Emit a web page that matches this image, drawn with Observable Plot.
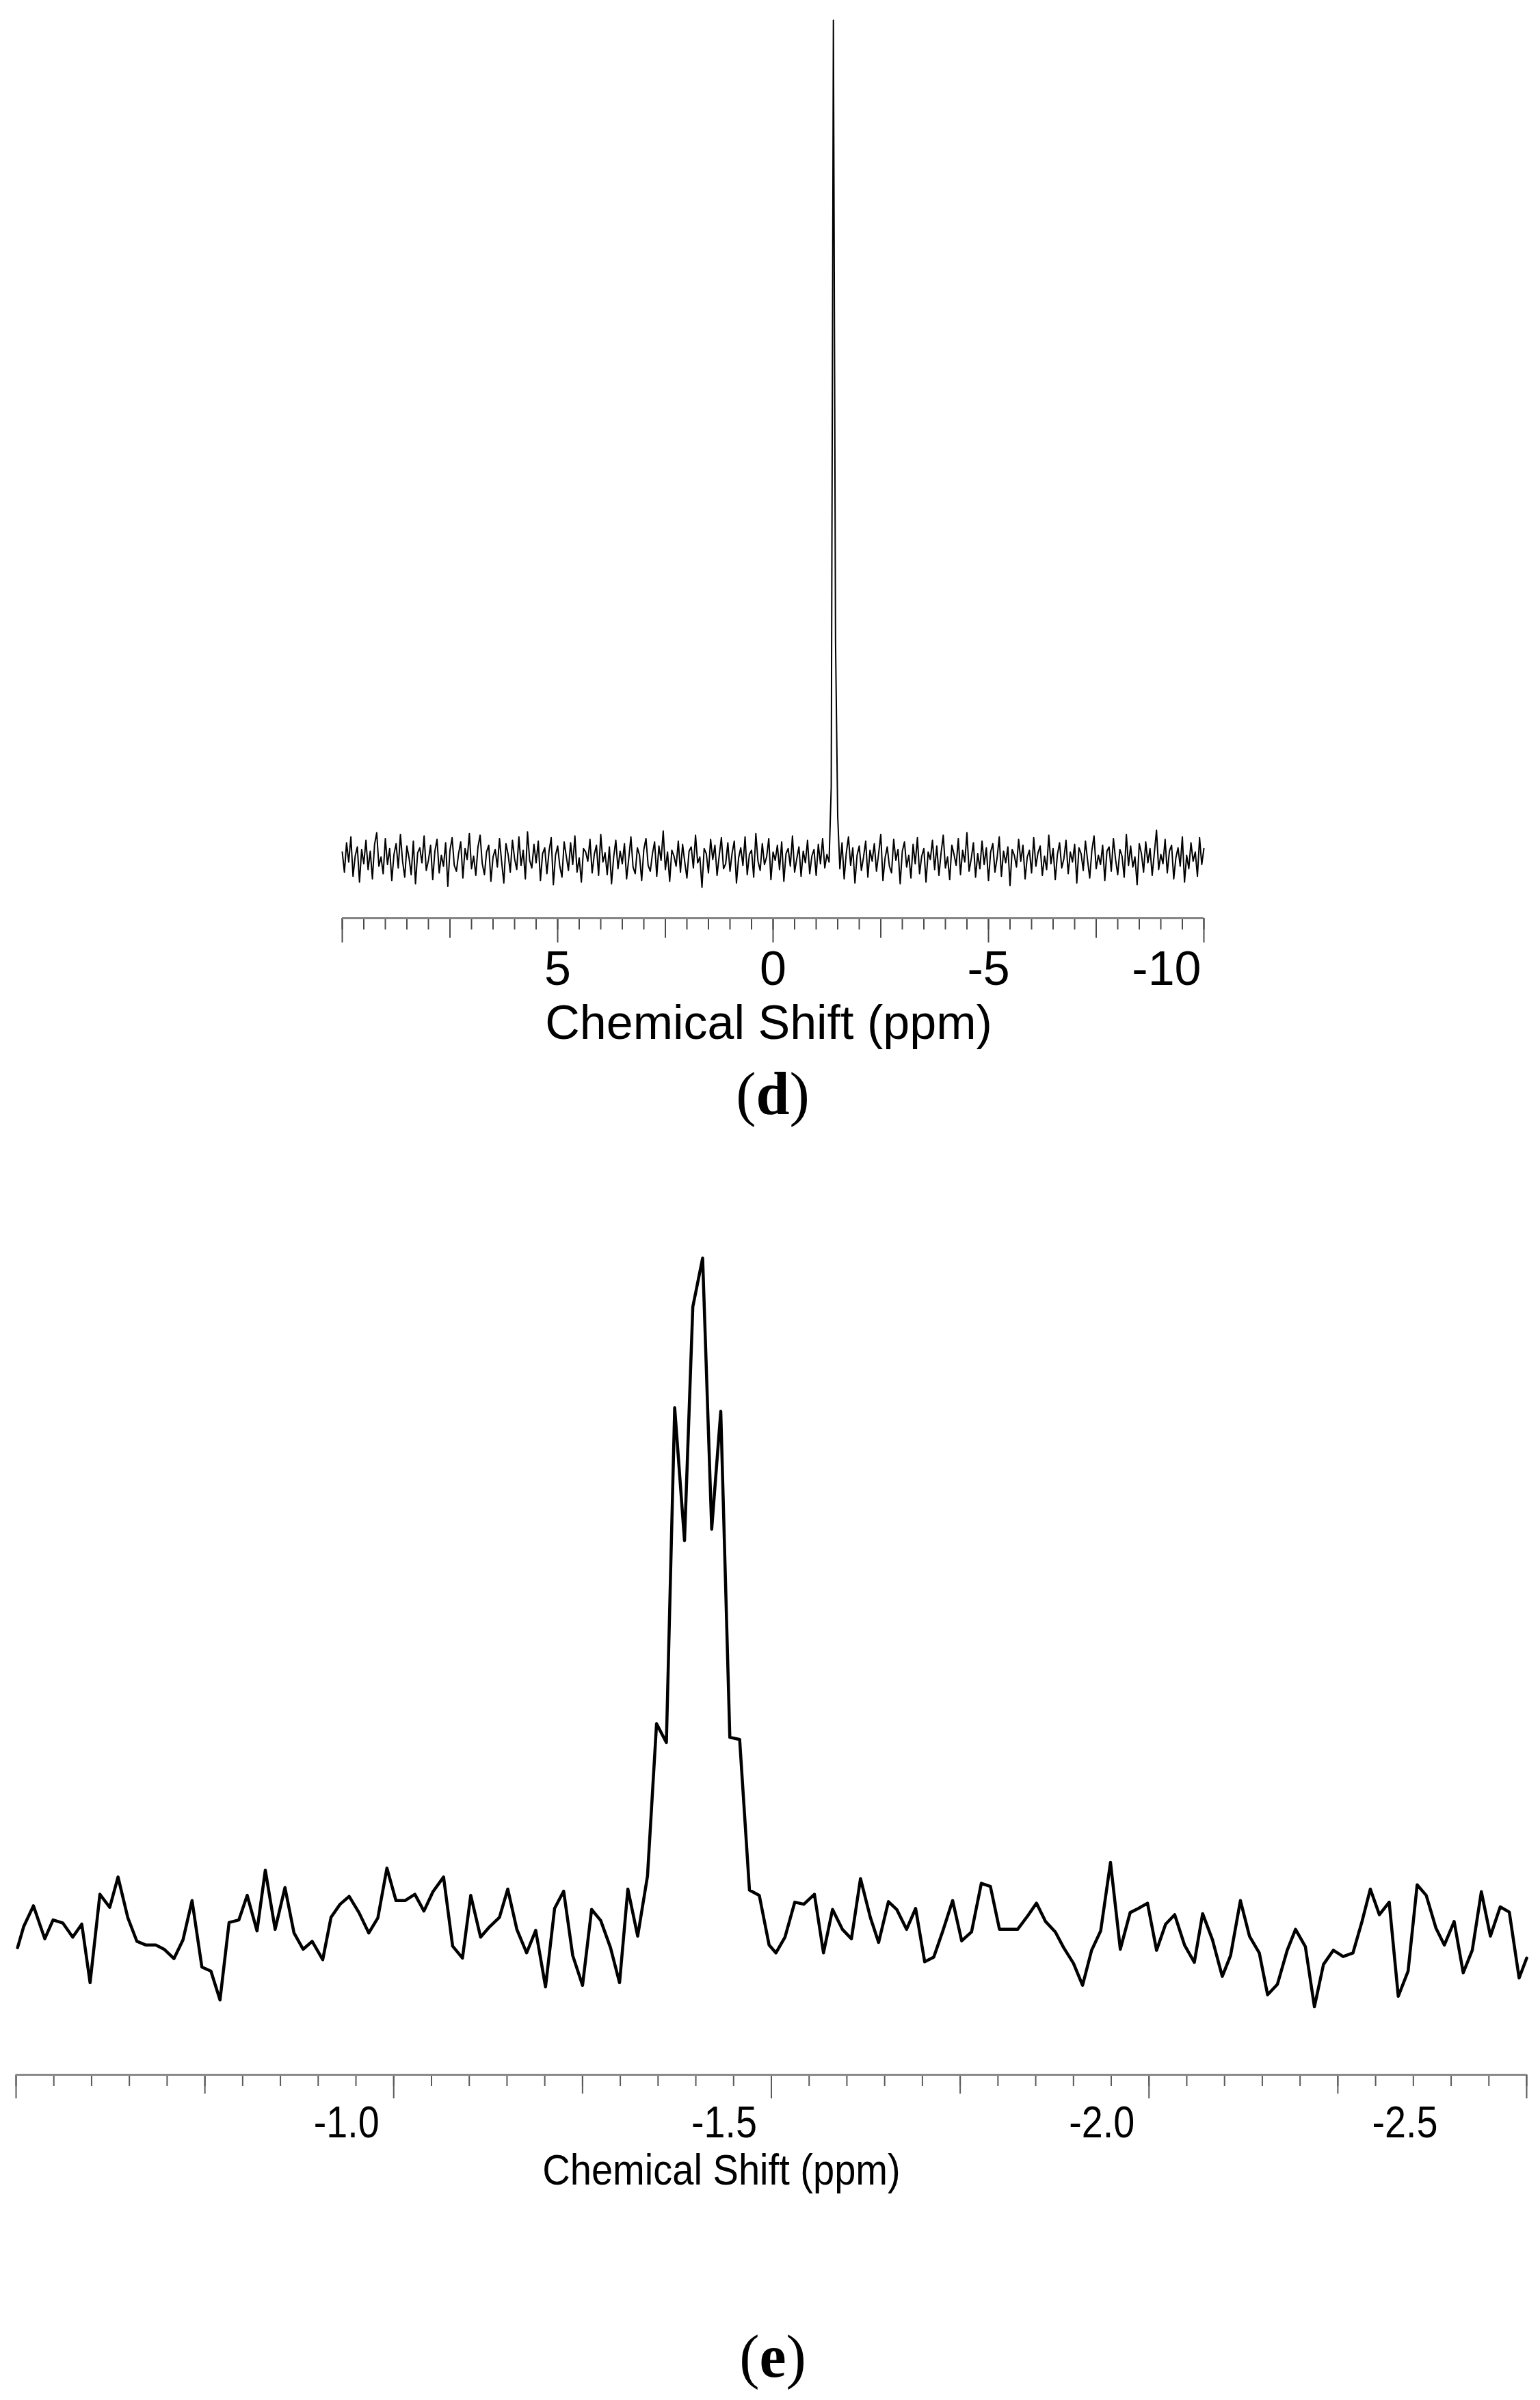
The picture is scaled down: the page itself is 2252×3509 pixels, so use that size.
<!DOCTYPE html>
<html><head><meta charset="utf-8">
<script src="https://cdn.jsdelivr.net/npm/d3@7"></script>
<script src="https://cdn.jsdelivr.net/npm/@observablehq/plot@0.6"></script>
<style>
html,body{margin:0;padding:0;background:#fff;}
#page{position:relative;width:2252px;height:3509px;background:#fff;overflow:hidden;}
.abs{position:absolute;}
.title-d{font-family:"Liberation Sans",Arial,sans-serif;font-size:70px;line-height:70px;text-align:center;color:#000;white-space:nowrap;}
.title-e{font-family:"Liberation Sans",Arial,sans-serif;font-size:63px;line-height:63px;text-align:center;color:#000;white-space:nowrap;transform:scaleX(0.89);transform-origin:50% 50%;}
.cap{font-family:"Liberation Serif","Times New Roman",serif;font-size:88px;line-height:88px;text-align:center;color:#000;white-space:nowrap;}
</style></head>
<body><div id="page">
<div id="d" class="abs" style="left:0;top:0"></div>
<div class="abs title-d" style="left:624px;top:1460px;width:1000px">Chemical Shift (ppm)</div>
<div class="abs cap" style="left:630px;top:1556px;width:1000px">(<b>d</b>)</div>
<div id="e" class="abs" style="left:0;top:1700px"></div>
<div class="abs title-e" style="left:555px;top:3141px;width:1000px">Chemical Shift (ppm)</div>
<div class="abs cap" style="left:630px;top:3402px;width:1000px">(<b>e</b>)</div>
</div>
<script>
// ---------- Panel (d): full spectrum ----------
const dShift = [
10,9.95,9.9,9.85,9.8,9.75,9.7,9.65,9.6,9.55,9.5,9.45,9.4,9.35,9.3,9.25,9.2,9.15,9.1,9.05,
9,8.95,8.9,8.85,8.8,8.75,8.7,8.65,8.6,8.55,8.5,8.45,8.4,8.35,8.3,8.25,8.2,8.15,8.1,8.05,
8,7.95,7.9,7.85,7.8,7.75,7.7,7.65,7.6,7.55,7.5,7.45,7.4,7.35,7.3,7.25,7.2,7.15,7.1,7.05,
7,6.95,6.9,6.85,6.8,6.75,6.7,6.65,6.6,6.55,6.5,6.45,6.4,6.35,6.3,6.25,6.2,6.15,6.1,6.05,
6,5.95,5.9,5.85,5.8,5.75,5.7,5.65,5.6,5.55,5.5,5.45,5.4,5.35,5.3,5.25,5.2,5.15,5.1,5.05,
5,4.95,4.9,4.85,4.8,4.75,4.7,4.65,4.6,4.55,4.5,4.45,4.4,4.35,4.3,4.25,4.2,4.15,4.1,4.05,
4,3.95,3.9,3.85,3.8,3.75,3.7,3.65,3.6,3.55,3.5,3.45,3.4,3.35,3.3,3.25,3.2,3.15,3.1,3.05,
3,2.95,2.9,2.85,2.8,2.75,2.7,2.65,2.6,2.55,2.5,2.45,2.4,2.35,2.3,2.25,2.2,2.15,2.1,2.05,
2,1.95,1.9,1.85,1.8,1.75,1.7,1.65,1.6,1.55,1.5,1.45,1.4,1.35,1.3,1.25,1.2,1.15,1.1,1.05,
1,0.95,0.9,0.85,0.8,0.75,0.7,0.65,0.6,0.55,0.5,0.45,0.4,0.35,0.3,0.25,0.2,0.15,0.1,0.05,
0,-0.05,-0.1,-0.15,-0.2,-0.25,-0.3,-0.35,-0.4,-0.45,-0.5,-0.55,-0.6,-0.65,-0.7,-0.75,-0.8,-0.85,-0.9,-0.95,
-1,-1.05,-1.1,-1.15,-1.2,-1.25,-1.3,-1.35,-1.4,-1.45,-1.5,-1.55,-1.6,-1.65,-1.7,-1.75,-1.8,-1.85,-1.9,-1.95,
-2,-2.05,-2.1,-2.15,-2.2,-2.25,-2.3,-2.35,-2.4,-2.45,-2.5,-2.55,-2.6,-2.65,-2.7,-2.75,-2.8,-2.85,-2.9,-2.95,
-3,-3.05,-3.1,-3.15,-3.2,-3.25,-3.3,-3.35,-3.4,-3.45,-3.5,-3.55,-3.6,-3.65,-3.7,-3.75,-3.8,-3.85,-3.9,-3.95,
-4,-4.05,-4.1,-4.15,-4.2,-4.25,-4.3,-4.35,-4.4,-4.45,-4.5,-4.55,-4.6,-4.65,-4.7,-4.75,-4.8,-4.85,-4.9,-4.95,
-5,-5.05,-5.1,-5.15,-5.2,-5.25,-5.3,-5.35,-5.4,-5.45,-5.5,-5.55,-5.6,-5.65,-5.7,-5.75,-5.8,-5.85,-5.9,-5.95,
-6,-6.05,-6.1,-6.15,-6.2,-6.25,-6.3,-6.35,-6.4,-6.45,-6.5,-6.55,-6.6,-6.65,-6.7,-6.75,-6.8,-6.85,-6.9,-6.95,
-7,-7.05,-7.1,-7.15,-7.2,-7.25,-7.3,-7.35,-7.4,-7.45,-7.5,-7.55,-7.6,-7.65,-7.7,-7.75,-7.8,-7.85,-7.9,-7.95,
-8,-8.05,-8.1,-8.15,-8.2,-8.25,-8.3,-8.35,-8.4,-8.45,-8.5,-8.55,-8.6,-8.65,-8.7,-8.75,-8.8,-8.85,-8.9,-8.95,
-9,-9.05,-9.1,-9.15,-9.2,-9.25,-9.3,-9.35,-9.4,-9.45,-9.5,-9.55,-9.6,-9.65,-9.7,-9.75,-9.8,-9.85,-9.9,-9.95,
-10];
const dIntensity = [
0.8,-1.6,1.9,-0.4,2.6,-2.1,0.3,1.4,-2.8,1.1,-0.6,2.2,-1.3,0.9,-2.4,1.7,3.1,-0.9,0.2,-1.8,
2.4,-0.7,1.2,-2.6,0.5,1.8,-1.1,2.9,-0.3,-2.2,1.5,0.1,-1.9,2.1,-3.0,0.7,1.3,-0.5,2.7,-1.4,
-0.2,1.6,-2.5,0.9,2.3,-1.7,0.4,-0.9,1.9,-3.3,1.0,2.5,-0.8,-1.5,0.6,2.0,-2.3,1.2,-0.1,3.0,
-1.2,0.3,-2.0,1.4,2.8,-0.6,-1.9,0.8,1.6,-2.7,0.2,1.1,-1.0,2.4,-0.4,-2.9,1.8,0.5,-1.6,2.2,
0.0,-1.3,2.6,-0.8,1.0,-2.4,3.2,-0.2,-1.1,1.7,-0.5,2.1,-2.6,0.6,1.3,-1.8,0.9,2.5,-3.1,0.4,
1.5,-0.9,-2.2,2.0,0.3,-1.4,1.9,-0.7,2.7,-1.6,0.1,-2.8,1.2,0.8,-0.3,2.3,-1.7,0.5,1.6,-2.0,
2.9,-0.4,0.7,-1.9,1.4,-3.0,0.2,2.2,-1.2,0.9,-0.6,1.8,-2.4,0.0,2.6,-1.0,-1.8,1.3,0.4,-2.6,
1.1,2.4,-0.8,-1.5,0.6,2.0,-2.1,1.5,-0.2,3.3,-1.3,0.8,-2.7,1.0,0.3,-0.9,2.1,-1.6,1.7,-0.4,
-2.3,0.9,1.4,-1.1,2.8,-0.5,0.2,-3.4,1.2,0.6,-1.7,2.3,-0.1,1.6,-2.0,0.4,2.5,-1.2,-0.6,1.9,
-1.5,0.7,2.1,-2.9,0.1,1.3,-0.8,2.6,-1.9,0.5,1.0,-2.2,3.0,-0.3,-1.4,1.8,-0.7,0.2,2.4,-2.5,
0.8,-0.2,1.6,-1.3,2.0,-2.7,0.6,1.2,-0.9,2.7,-1.6,0.0,1.4,-2.1,0.9,-0.5,2.2,-1.8,0.3,1.1,
-2.0,1.7,-0.6,2.4,-1.1,0.5,-0.4,8.6,100,25.9,5.1,-1.2,1.9,-2.4,0.7,2.6,-0.8,1.3,-2.9,0.4,
1.5,-1.4,0.2,2.1,-2.2,1.0,-0.3,1.8,-1.5,0.6,2.9,-2.6,0.1,1.4,-0.9,-1.7,2.3,-0.2,1.1,-3.0,
0.9,2.0,-1.0,0.4,-2.3,1.7,-0.6,2.5,-1.8,0.3,1.2,-2.8,0.8,-0.1,2.2,-1.3,1.5,-2.0,0.7,2.8,
-1.1,0.2,-2.5,1.6,0.5,-0.8,2.4,-1.9,1.0,-0.4,3.1,-1.5,0.0,1.9,-2.2,0.6,-1.2,2.1,-0.7,1.3,
-2.6,0.8,1.8,-1.6,0.1,2.6,-2.1,0.9,-0.5,1.4,-3.2,1.1,0.4,-1.0,2.3,-0.3,1.6,-2.4,0.2,1.0,
-1.7,2.5,-0.9,0.7,1.5,-2.0,0.3,-1.3,2.8,-0.6,1.2,-2.5,0.5,1.9,-1.1,0.0,2.2,-1.8,0.8,-0.4,
1.7,-2.9,1.3,0.6,-1.4,2.1,-0.2,-2.3,1.0,2.7,-1.2,0.4,-0.7,1.6,-2.6,0.9,1.4,-1.5,2.4,-0.1,
-1.9,1.1,0.3,-2.2,2.9,-0.8,1.5,-1.0,0.2,-3.1,1.8,0.6,-1.6,2.0,-0.5,1.2,-2.0,0.7,3.4,-1.3,
0.5,-0.6,2.3,-1.7,0.9,1.6,-2.4,0.1,1.3,-0.9,2.6,-2.8,0.4,-1.2,1.9,-0.3,0.8,-2.1,2.5,-0.7,
1.2];
const dXDomain = [10, -10];
const dYDomain = [-7.1, 100];
const dMajorTicks = [10, 5, 0, -5, -10];
const dMidTicks = [7.5, 2.5, -2.5, -7.5];
const dMinorTicks = [10,9.5,9,8.5,8,7.5,7,6.5,6,5.5,5,4.5,4,3.5,3,2.5,2,1.5,1,0.5,0,-0.5,-1,-1.5,-2,-2.5,-3,-3.5,-4,-4.5,-5,-5.5,-6,-6.5,-7,-7.5,-8,-8.5,-9,-9.5,-10];
const dLabels = [5, 0, -5];
const dEndLabels = [-10];

// ---------- Panel (e): expansion around the peak ----------
const eShift = [
-0.502,-0.510,-0.523,-0.538,-0.549,-0.562,-0.575,-0.587,-0.598,-0.611,-0.624,-0.635,-0.648,-0.660,-0.672,-0.685,-0.696,-0.709,-0.721,-0.733,
-0.746,-0.758,-0.770,-0.782,-0.795,-0.806,-0.819,-0.830,-0.843,-0.856,-0.868,-0.880,-0.892,-0.906,-0.917,-0.929,-0.941,-0.954,-0.967,-0.979,
-0.991,-1.003,-1.015,-1.028,-1.040,-1.052,-1.066,-1.078,-1.091,-1.102,-1.115,-1.127,-1.140,-1.151,-1.163,-1.176,-1.188,-1.201,-1.213,-1.225,
-1.237,-1.250,-1.262,-1.274,-1.287,-1.299,-1.310,-1.323,-1.336,-1.348,-1.361,-1.372,-1.385,-1.396,-1.409,-1.421,-1.433,-1.445,-1.458,-1.471,
-1.484,-1.497,-1.506,-1.518,-1.531,-1.543,-1.557,-1.569,-1.581,-1.594,-1.606,-1.618,-1.631,-1.642,-1.655,-1.666,-1.679,-1.691,-1.703,-1.715,
-1.727,-1.740,-1.752,-1.765,-1.778,-1.790,-1.802,-1.814,-1.826,-1.839,-1.851,-1.863,-1.876,-1.887,-1.900,-1.912,-1.924,-1.936,-1.949,-1.962,
-1.975,-1.986,-1.998,-2.010,-2.022,-2.034,-2.047,-2.060,-2.071,-2.084,-2.097,-2.108,-2.121,-2.133,-2.146,-2.157,-2.170,-2.183,-2.194,-2.207,
-2.219,-2.231,-2.244,-2.257,-2.270,-2.282,-2.293,-2.305,-2.318,-2.330,-2.343,-2.355,-2.367,-2.380,-2.391,-2.404,-2.416,-2.428,-2.440,-2.452,
-2.465,-2.477,-2.490,-2.500];
const eIntensity = [
-3.5,0.5,4.5,-1.8,1.8,1.2,-1.5,1.0,-10.2,6.7,4.2,10.0,2.2,-2.3,-3.0,-3.0,-3.8,-5.6,-2.0,5.5,
-7.2,-8.0,-13.5,1.3,1.8,6.5,-0.3,11.3,0.0,8.0,-0.7,-3.8,-2.3,-5.8,2.3,4.8,6.3,3.2,-0.7,2.2,
11.7,5.5,5.5,6.7,3.5,7.2,10.0,-3.2,-5.5,6.5,-1.5,0.5,2.3,7.7,0.0,-4.5,-0.2,-11.0,4.0,7.3,
-5.0,-10.7,3.8,1.7,-3.5,-10.2,7.7,-1.3,10.2,39.3,35.7,99.7,74.3,119.0,128.3,76.5,99.0,36.7,36.3,7.5,
6.5,-3.0,-4.5,-1.5,5.2,4.8,6.7,-4.5,3.8,0.0,-1.8,9.7,2.3,-2.5,5.3,3.8,0.0,4.0,-6.2,-5.3,
-0.3,5.5,-2.2,-0.5,8.8,8.2,0.0,0.0,0.0,2.5,5.0,1.5,-0.5,-3.5,-6.5,-10.7,-4.0,-0.3,12.8,-3.8,
3.2,4.0,5.0,-4.0,1.0,2.8,-3.0,-6.3,3.0,-2.0,-9.0,-5.0,5.5,-1.3,-4.5,-12.5,-10.5,-4.0,0.0,-3.3,
-14.8,-6.7,-4.0,-5.2,-4.5,1.5,7.7,2.8,5.2,-12.8,-8.0,8.5,6.5,0.2,-3.0,1.5,-8.3,-4.0,7.2,-1.3,
4.3,3.3,-9.3,-5.5];
const eXDomain = [-0.5, -2.5];
const eYDomain = [-27.8, 128.3];
const eMajorTicks = [-0.5, -1.0, -1.5, -2.0, -2.5];
const eMidTicks = [-0.75, -1.25, -1.75, -2.25];
const eMinorTicks = [-0.5,-0.55,-0.6,-0.65,-0.7,-0.75,-0.8,-0.85,-0.9,-0.95,-1.0,-1.05,-1.1,-1.15,-1.2,-1.25,-1.3,-1.35,-1.4,-1.45,-1.5,-1.55,-1.6,-1.65,-1.7,-1.75,-1.8,-1.85,-1.9,-1.95,-2.0,-2.05,-2.1,-2.15,-2.2,-2.25,-2.3,-2.35,-2.4,-2.45,-2.5];
const eLabels = [-1.0, -1.5, -2.0];
const eEndLabels = [-2.5];

// ---------- build ----------
const SANS = "Liberation Sans, Arial, sans-serif";
const noText = () => "";
const dRows = dShift.map((x, i) => ({x, y: dIntensity[i]}));
const eRows = eShift.map((x, i) => ({x, y: eIntensity[i]}));

function tickAxis(ticks, size, color, w) {
  return Plot.axisX(ticks, {tickSize: size, tickFormat: noText, stroke: color, strokeWidth: w, label: null, fontSize: 1});
}

const dPlot = Plot.plot({
  width: 2252, height: 1460,
  marginTop: 29, marginBottom: 118, marginLeft: 500, marginRight: 492,
  x: {domain: dXDomain, label: null},
  y: {domain: dYDomain, axis: null},
  style: {background: "transparent", overflow: "visible"},
  marks: [
    tickAxis(dMinorTicks, 17, "#4a4a4a", 2),
    tickAxis(dMidTicks, 29, "#4a4a4a", 2),
    tickAxis(dMajorTicks, 36, "#4a4a4a", 2),
    Plot.ruleY([dYDomain[0]], {stroke: "#858585", strokeWidth: 3.2}),
    Plot.axisX(dLabels, {tickSize: 0, tickPadding: 48, tickFormat: d => String(d), fontSize: 70, fontFamily: SANS, fill: "#000", label: null}),
    Plot.axisX(dEndLabels, {tickSize: 0, tickPadding: 48, tickFormat: d => String(d), textAnchor: "end", dx: -4, fontSize: 70, fontFamily: SANS, fill: "#000", label: null}),
    Plot.line(dRows, {x: "x", y: "y", stroke: "#000", strokeWidth: 2})
  ]
});
document.getElementById("d").appendChild(dPlot);

const ePlot = Plot.plot({
  width: 2252, height: 1440,
  marginTop: 139, marginBottom: 107, marginLeft: 23, marginRight: 20,
  x: {domain: eXDomain, label: null},
  y: {domain: eYDomain, axis: null},
  style: {background: "transparent", overflow: "visible"},
  marks: [
    tickAxis(eMinorTicks, 17, "#5a5a5a", 2),
    tickAxis(eMidTicks, 28, "#5a5a5a", 2),
    tickAxis(eMajorTicks, 35, "#5a5a5a", 2),
    Plot.ruleY([eYDomain[0]], {stroke: "#8a8a8a", strokeWidth: 3}),
    Plot.axisX(eLabels, {tickSize: 0, tickPadding: 46, tickFormat: d => d.toFixed(1), textAnchor: "end", dx: -21, fontSize: 64, fontFamily: SANS, fill: "#000", label: null}),
    Plot.axisX(eEndLabels, {tickSize: 0, tickPadding: 46, tickFormat: d => d.toFixed(1), textAnchor: "end", dx: -130, fontSize: 64, fontFamily: SANS, fill: "#000", label: null}),
    Plot.line(eRows, {x: "x", y: "y", stroke: "#000", strokeWidth: 4.5})
  ]
});
document.getElementById("e").appendChild(ePlot);

// Panel (e) tick labels are set in a condensed face in the original: squeeze horizontally.
ePlot.querySelectorAll("text").forEach(t => {
  if (!t.textContent) return;
  const tr = t.getAttribute("transform");
  if (tr && tr.includes("translate")) {
    t.setAttribute("transform", tr + " scale(0.87,1)");
  } else {
    const x = +(t.getAttribute("x") || 0), y = +(t.getAttribute("y") || 0);
    t.setAttribute("transform", `translate(${x},${y}) scale(0.87,1) translate(${-x},${-y})`);
  }
});
</script>
</body></html>
